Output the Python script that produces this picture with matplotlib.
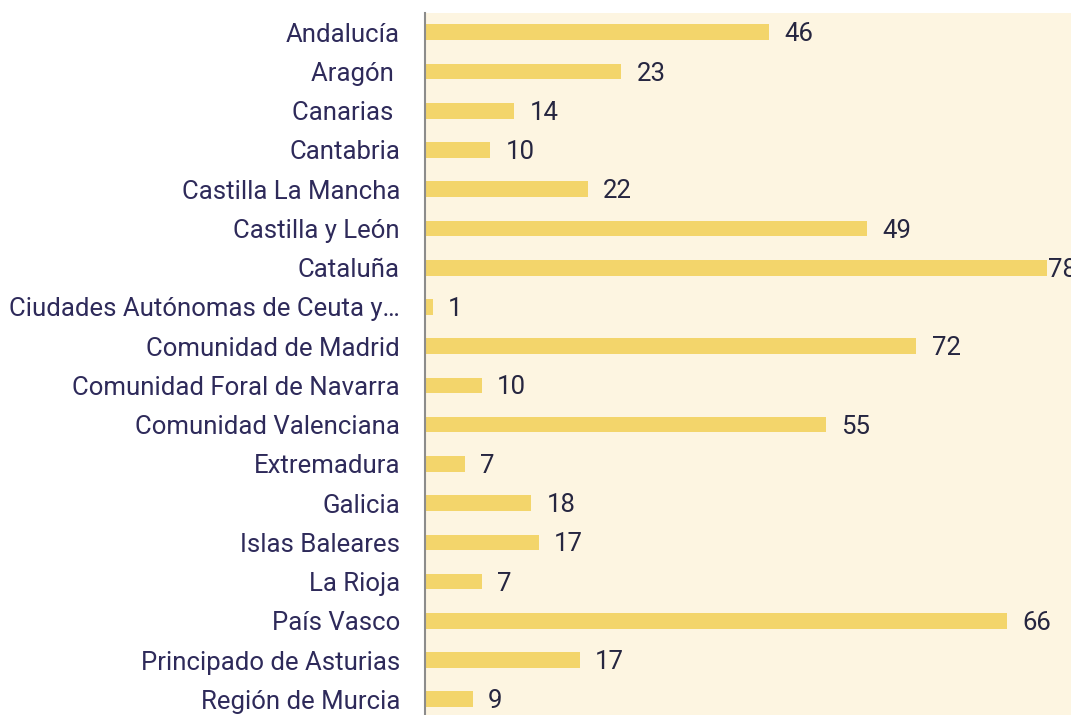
import matplotlib.pyplot as plt
import numpy as np

plt.rcParams['font.family'] = ['Roboto', 'DejaVu Sans']

regiones = ['Andalucía', 'Aragón ', 'Canarias ', 'Cantabria', 'Castilla La Mancha',
            'Castilla y León', 'Cataluña', 'Ciudades Autónomas de Ceuta y…',
            'Comunidad de Madrid', 'Comunidad Foral de Navarra', 'Comunidad Valenciana',
            'Extremadura', 'Galicia', 'Islas Baleares', 'La Rioja', 'País Vasco',
            'Principado de Asturias', 'Región de Murcia']
# numbers written next to each bar
etiquetas = [46, 23, 14, 10, 22, 49, 78, 1, 72, 10, 55, 7, 18, 17, 7, 66, 17, 9]
# bar lengths as drawn (not proportional to the labels in the original)
longitudes = [43.1, 24.6, 11.2, 8.2, 20.4, 55.4, 78.0, 1.0, 61.6, 7.1,
              50.3, 5.0, 13.3, 14.3, 7.1, 73.0, 19.4, 6.0]

fig = plt.figure(figsize=(10.71, 7.15), dpi=100)
ax = fig.add_axes([0.3968, 0.0, 0.6032, 0.9818])
ax.set_facecolor('#FDF5E1')

y = np.arange(len(regiones))
ax.barh(y, longitudes, height=0.4, color='#F3D56B')
ax.set_xlim(0, 81)
ax.set_ylim(17.4, -0.49)

for yi, v, lab in zip(y, longitudes, etiquetas):
    off = 11 if v < 75 else 1
    ax.annotate(str(lab), (v, yi), xytext=(off, -1.5), textcoords='offset points',
                va='center', ha='left', fontsize=18.5, color='#262640',
                annotation_clip=False)

ax.set_yticks(y)
ax.set_yticklabels(regiones, fontsize=18.5, color='#2E2A5A')
ax.tick_params(axis='y', length=0, pad=18)
ax.set_xticks([])
for s in ['top', 'right', 'bottom']:
    ax.spines[s].set_visible(False)
ax.spines['left'].set_color('#8C8C8C')
ax.spines['left'].set_linewidth(1.5)

fig.savefig('out.png', dpi=100)
